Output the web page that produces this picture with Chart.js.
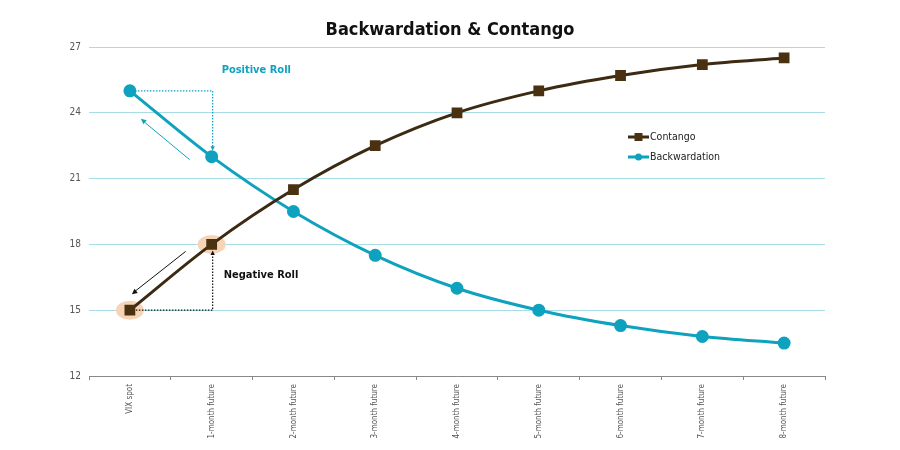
<!DOCTYPE html>
<html>
<head>
<meta charset="utf-8">
<script src="https://cdn.jsdelivr.net/npm/chart.js@4"></script>
<style>
html,body{margin:0;padding:0;background:#fff;}
#wrap{width:900px;height:450px;position:relative;}
</style>
</head>
<body>
<div id="wrap"><canvas id="c" width="900" height="450"></canvas></div>
<script>
const categories = ["VIX spot","1-month future","2-month future","3-month future","4-month future","5-month future","6-month future","7-month future","8-month future"];
const contango = [15, 18, 20.5, 22.5, 24, 25, 25.7, 26.2, 26.5];
const backwardation = [25, 22, 19.5, 17.5, 16, 15, 14.3, 13.8, 13.5];
const yTicks = [12, 15, 18, 21, 24, 27];

const BROWN = '#3d2a12';
const TEAL = '#0ea2be';
const GRID = '#a8dde7';
const FONT = "'DejaVu Sans Condensed','DejaVu Sans',sans-serif";
const TICKFONT = "'DejaVu Sans Condensed','DejaVu Sans',sans-serif";

function arrowHead(ctx, x1, y1, x2, y2, size, color) {
  const a = Math.atan2(y2 - y1, x2 - x1);
  ctx.save();
  ctx.fillStyle = color;
  ctx.setLineDash([]);
  ctx.beginPath();
  ctx.moveTo(x2, y2);
  ctx.lineTo(x2 - size * Math.cos(a - 0.45), y2 - size * Math.sin(a - 0.45));
  ctx.lineTo(x2 - size * Math.cos(a + 0.45), y2 - size * Math.sin(a + 0.45));
  ctx.closePath();
  ctx.fill();
  ctx.restore();
}

const halos = {
  id: 'halos',
  beforeDatasetsDraw(chart) {
    const {ctx, scales: {x, y}} = chart;
    ctx.save();
    ctx.fillStyle = '#f8d4b7';
    [0, 1].forEach(i => {
      const px = x.getPixelForValue(i), py = y.getPixelForValue(contango[i]);
      ctx.beginPath();
      ctx.ellipse(px, py, 14, 9.5, 0, 0, Math.PI * 2);
      ctx.fill();
    });
    ctx.restore();
  }
};

const annotations = {
  id: 'annotations',
  afterDatasetsDraw(chart) {
    const {ctx, scales: {x, y}} = chart;
    const x0 = x.getPixelForValue(0), x1 = x.getPixelForValue(1);
    const b0 = y.getPixelForValue(backwardation[0]), b1 = y.getPixelForValue(backwardation[1]);
    const c0 = y.getPixelForValue(contango[0]), c1 = y.getPixelForValue(contango[1]);
    ctx.save();
    ctx.strokeStyle = TEAL; ctx.lineWidth = 1.2; ctx.setLineDash([1.5, 1.5]);
    ctx.beginPath();
    ctx.moveTo(x0 + 5, b0); ctx.lineTo(x1 + 1, b0); ctx.lineTo(x1 + 1, b1 - 10);
    ctx.stroke();
    arrowHead(ctx, x1 + 1, b1 - 14, x1 + 1, b1 - 6, 5, TEAL);
    ctx.setLineDash([]);
    ctx.lineWidth = 1;
    ctx.beginPath();
    ctx.moveTo(x1 - 22, b1 + 3); ctx.lineTo(x0 + 13, b0 + 30);
    ctx.stroke();
    arrowHead(ctx, x1 - 22, b1 + 3, x0 + 11, b0 + 28, 6, TEAL);
    ctx.strokeStyle = '#111'; ctx.lineWidth = 1.2; ctx.setLineDash([1.5, 1.5]);
    ctx.beginPath();
    ctx.moveTo(x0 + 6, c0); ctx.lineTo(x1 + 1, c0); ctx.lineTo(x1 + 1, c1 + 10);
    ctx.stroke();
    arrowHead(ctx, x1 + 1, c1 + 14, x1 + 1, c1 + 6, 5, '#111');
    ctx.setLineDash([]);
    ctx.lineWidth = 1;
    ctx.beginPath();
    ctx.moveTo(x1 - 26, c1 + 7); ctx.lineTo(x0 + 4, c0 - 18);
    ctx.stroke();
    arrowHead(ctx, x1 - 26, c1 + 7, x0 + 2, c0 - 16, 6, '#111');
    ctx.font = "bold 11px " + FONT;
    ctx.textBaseline = 'middle'; ctx.textAlign = 'left';
    ctx.fillStyle = TEAL;
    ctx.fillText('Positive Roll', x1 + 10, b0 - 21);
    ctx.fillStyle = '#111';
    ctx.fillText('Negative Roll', x1 + 12, (c0 + c1) / 2 - 2);
    ctx.restore();
  }
};

const customLegend = {
  id: 'customLegend',
  afterDraw(chart) {
    const {ctx} = chart;
    const lx = 628, ly = 137, gap = 20;
    ctx.save();
    ctx.font = "10.5px " + FONT;
    ctx.textBaseline = 'middle'; ctx.textAlign = 'left';
    chart.data.datasets.forEach((ds, i) => {
      const yy = ly + i * gap;
      ctx.strokeStyle = ds.borderColor; ctx.lineWidth = 3;
      ctx.beginPath(); ctx.moveTo(lx, yy); ctx.lineTo(lx + 21, yy); ctx.stroke();
      ctx.fillStyle = ds.pointBackgroundColor;
      if (ds.pointStyle === 'rect') {
        ctx.fillRect(lx + 6.5, yy - 4, 8, 8);
      } else {
        ctx.beginPath(); ctx.arc(lx + 10.5, yy, 3.5, 0, Math.PI * 2); ctx.fill();
      }
      ctx.fillStyle = '#222';
      ctx.fillText(ds.label, lx + 22, yy);
    });
    ctx.restore();
  }
};

new Chart(document.getElementById('c'), {
  type: 'line',
  data: {
    labels: categories,
    datasets: [
      {
        label: 'Contango', data: contango,
        borderColor: BROWN, backgroundColor: BROWN,
        pointBackgroundColor: '#4a3110', pointBorderColor: '#4a3110',
        pointStyle: 'rect', pointRadius: 5.5, borderWidth: 3, tension: 0.4,
        cubicInterpolationMode: 'monotone'
      },
      {
        label: 'Backwardation', data: backwardation,
        borderColor: TEAL, backgroundColor: TEAL,
        pointBackgroundColor: TEAL, pointBorderColor: TEAL,
        pointStyle: 'circle', pointRadius: 5, borderWidth: 3, tension: 0.4,
        cubicInterpolationMode: 'monotone'
      }
    ]
  },
  options: {
    responsive: false,
    animation: false,
    layout: { padding: 0 },
    plugins: {
      legend: { display: false },
      tooltip: { enabled: false },
      title: {
        display: true, text: 'Backwardation & Contango',
        color: '#111',
        font: { family: FONT, size: 18, weight: 'bold' },
        padding: { top: 20, bottom: 5.4 }
      }
    },
    scales: {
      x: {
        offset: true,
        grid: { drawOnChartArea: false, drawTicks: true, tickLength: 4, color: '#888', offset: true },
        border: { display: true, color: '#888', width: 1 },
        ticks: { minRotation: 90, maxRotation: 90, color: '#555', font: { family: TICKFONT, size: 8 }, padding: 4, autoSkip: false },
        afterFit(s) { s.height = 74; }
      },
      y: {
        min: 12, max: 27,
        afterBuildTicks(s) { s.ticks = yTicks.map(v => ({ value: v })); },
        grid: { color: GRID, drawTicks: false, lineWidth: 1 },
        border: { display: false },
        ticks: { color: '#555', font: { family: TICKFONT, size: 10 }, padding: 8 },
        afterFit(s) { s.width = 89; }
      },
      yRight: {
        position: 'right',
        display: true,
        grid: { display: false },
        border: { display: false },
        ticks: { display: false },
        afterFit(s) { s.width = 75; }
      }
    }
  },
  plugins: [halos, annotations, customLegend]
});
</script>
</body>
</html>
